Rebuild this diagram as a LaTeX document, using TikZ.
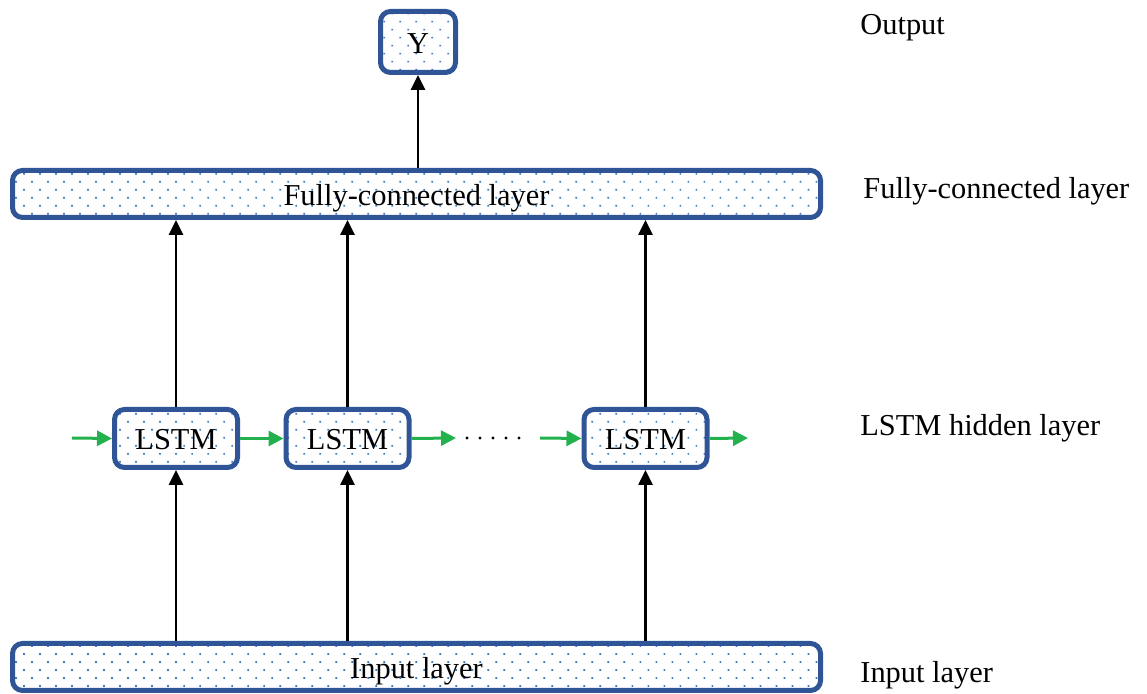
\documentclass[tikz,border=0pt]{standalone}
\usepackage{tikz}
\usepackage{xcolor}
\usepackage{fontspec}
\setmainfont{Liberation Serif}
\usetikzlibrary{arrows.meta,patterns.meta}
\definecolor{boxblue}{RGB}{47,85,151}
\definecolor{dotblue}{RGB}{68,114,196}
\definecolor{flowgreen}{RGB}{34,177,76}
\tikzset{
  layerbox/.style={draw=boxblue, line width=2.5pt, rounded corners=5pt,
    pattern={Dots[distance=5.66pt, angle=45, radius=0.6pt]}, pattern color=dotblue,
    inner sep=0pt, text height=12pt, text depth=0.5pt, font=\fontsize{15.2}{18}\selectfont},
  uparrow/.style={line width=1.3pt, -{Triangle[length=7.5pt,width=7pt]}},
  flowarrow/.style={flowgreen, line width=1.5pt, -{Triangle[length=7.5pt,width=7.5pt]}},
  sidelabel/.style={anchor=west, inner sep=0pt, font=\fontsize{15.2}{18}\selectfont}
}
\begin{document}
\begin{tikzpicture}[x=0.5pt,y=-0.5pt]
                    \useasboundingbox (0,0) rectangle (1147,694);

                    % Output
                    \node[layerbox, minimum width=37.5pt, minimum height=30.5pt] (y) at (418,42) {Y};

                    % Fully-connected layer
                    \node[layerbox, minimum width=404pt, minimum height=23.5pt] (fc) at (416.5,194) {Fully-connected layer};

                    % LSTM cells
                    \node[layerbox, minimum width=61.5pt, minimum height=29pt] (lstm1) at (176,438.5) {LSTM};
                    \node[layerbox, minimum width=61.5pt, minimum height=29pt] (lstm2) at (347.5,438.5) {LSTM};
                    \node[layerbox, minimum width=61.5pt, minimum height=29pt] (lstm3) at (645.5,438.5) {LSTM};

                    % Input layer
                    \node[layerbox, minimum width=404pt, minimum height=23.5pt] (in) at (416.5,667) {Input layer};

                    % Arrows input -> LSTM -> fully-connected
                    \foreach \c in {lstm1,lstm2,lstm3} {
                      \draw[uparrow] (in.north -| \c) -- (\c.south);
                      \draw[uparrow] (\c.north) -- (fc.south -| \c);
                    }
                    \draw[uparrow] (fc.north -| y) -- (y.south);

                    % Recurrent connections
                    \coordinate (hin) at (72,438);
                    \coordinate (hmid) at (456,438);
                    \coordinate (hback) at (540,438);
                    \coordinate (hout) at (748,438);
                    \draw[flowarrow] (hin) -- (lstm1.west);
                    \draw[flowarrow] (lstm1.east) -- (lstm2.west);
                    \draw[flowarrow] (lstm2.east) -- (hmid);
                    \foreach \i in {0,...,4}
                      \fill (467+13*\i,438) circle (1.7);
                    \draw[flowarrow] (hback) -- (lstm3.west);
                    \draw[flowarrow] (lstm3.east) -- (hout);

                    % Layer names
                    \node[sidelabel] (lout) at (860,27.5) {Output};
                    \node[sidelabel] (lfc) at (863,191.5) {Fully-connected layer};
                    \node[sidelabel] (lhid) at (860,428.5) {LSTM hidden layer};
                    \node[sidelabel] (lin) at (860,675.5) {Input layer};
                \end{tikzpicture}
\end{document}
